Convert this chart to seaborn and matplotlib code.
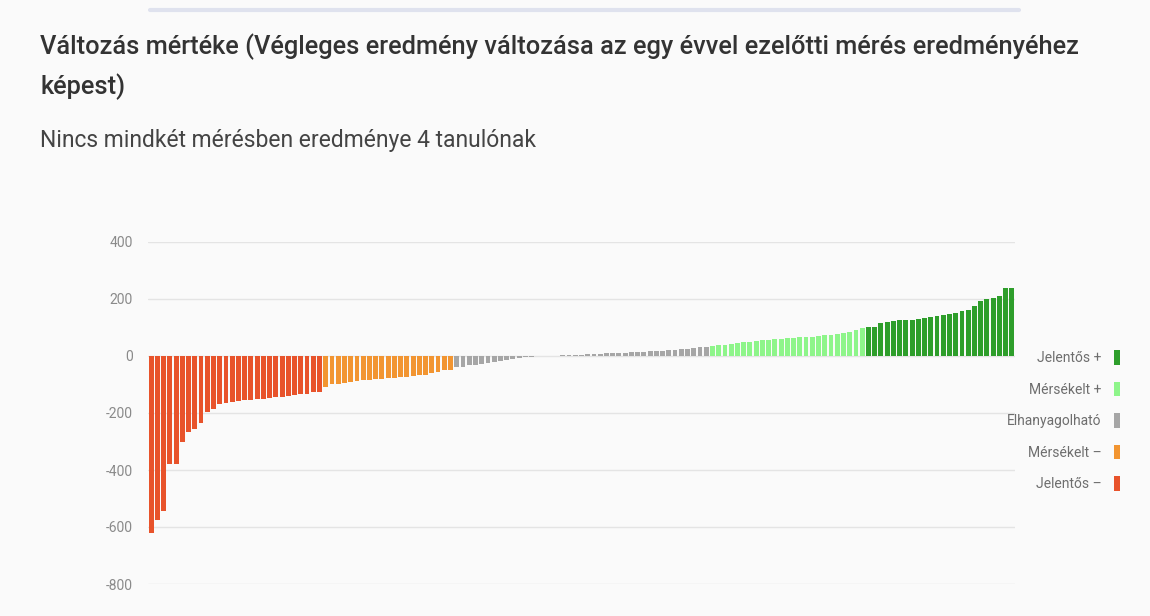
import pandas as pd
import matplotlib.pyplot as plt
from matplotlib.lines import Line2D
from matplotlib.patches import Patch
import seaborn as sns

# values, sorted ascending, grouped by category
jelentos_minus = [-620, -575, -545, -380, -380, -300, -265, -255, -235, -195,
                  -185, -170, -165, -160, -158, -155, -153, -152, -150, -148,
                  -145, -143, -140, -138, -135, -132, -128, -125]
merseklet_minus = [-110, -100, -98, -95, -90, -88, -85, -83, -82, -80, -78,
                   -77, -75, -72, -70, -68, -65, -60, -55, -50, -48]
elhanyagolhato = [-40, -37, -33, -30, -27, -24, -20, -17, -14, -11, -8, -5,
                  -2, 0, 0, 0, 1, 2, 3, 4, 5, 6, 7, 8, 9, 10, 11, 12, 13, 14,
                  15, 16, 17, 18, 20, 22, 24, 26, 28, 30, 32]
merseklet_plus = [35, 38, 40, 42, 45, 48, 50, 52, 55, 57, 58, 60, 62, 63, 65,
                  67, 68, 70, 72, 75, 78, 82, 85, 90, 97]
jelentos_plus = [100, 103, 115, 120, 122, 125, 127, 128, 130, 132, 138, 142,
                 145, 148, 152, 158, 163, 175, 192, 200, 205, 210, 240, 240]

labels = ['Jelentős +', 'Mérsékelt +', 'Elhanyagolható', 'Mérsékelt –', 'Jelentős –']
colors = ['#2e9e2b', '#8ef58a', '#a6a6a6', '#f29531', '#e8532b']
groups = [jelentos_plus, merseklet_plus, elhanyagolhato, merseklet_minus, jelentos_minus]

rows = []
for lab, vals in zip(labels[::-1], groups[::-1]):
    for v in vals:
        rows.append((lab, v))
df = pd.DataFrame(rows, columns=['kategoria', 'valtozas'])
df['idx'] = range(len(df))

sns.set_style('white')
plt.rcParams['font.family'] = ['Roboto', 'DejaVu Sans']
plt.rcParams['axes.unicode_minus'] = False

bg = '#fafafa'
fig = plt.figure(figsize=(11.5, 6.16), dpi=100, facecolor=bg)
ax = fig.add_axes([148 / 1150, 1 - 584 / 616, (1015 - 148) / 1150, (584 - 242) / 616])
ax.set_facecolor(bg)

sns.barplot(data=df, x='idx', y='valtozas', hue='kategoria',
            palette=dict(zip(labels, colors)), dodge=False, width=0.78,
            saturation=1, linewidth=0, legend=False, ax=ax)

ax.set_ylim(-800, 400)
ax.set_yticks([400, 200, 0, -200, -400, -600, -800])
ax.set_xticks([])
ax.set_xlabel('')
ax.set_ylabel('')
ax.grid(axis='y', color='#e4e4e4', linewidth=1)
ax.set_axisbelow(True)
for s in ax.spines.values():
    s.set_visible(False)
ax.tick_params(axis='y', length=0, pad=11, labelsize=10, labelcolor='#8a8a8a')

handles = [Patch(facecolor=c, edgecolor='none') for c in colors]
fig.legend(handles, labels, loc='center right', bbox_to_anchor=(0.985, 0.317),
           frameon=False, markerfirst=False, fontsize=10, labelcolor='#6e6e6e',
           handlelength=0.45, handleheight=1.2, handletextpad=0.9, labelspacing=1.2)

fig.text(40 / 1150, 1 - 47 / 616,
         'Változás mértéke (Végleges eredmény változása az egy évvel ezelőtti mérés eredményéhez',
         fontsize=18.3, fontweight='medium', color='#333333', va='center')
fig.text(40 / 1150, 1 - 87 / 616, 'képest)',
         fontsize=18.3, fontweight='medium', color='#333333', va='center')
fig.text(40 / 1150, 1 - 140 / 616, 'Nincs mindkét mérésben eredménye 4 tanulónak',
         fontsize=16.5, color='#444444', va='center')

fig.add_artist(Line2D([150 / 1150, 1019 / 1150], [1 - 10 / 616, 1 - 10 / 616],
                      color='#dfe2ee', linewidth=3))

plt.savefig('out.png', dpi=100, facecolor=bg)
